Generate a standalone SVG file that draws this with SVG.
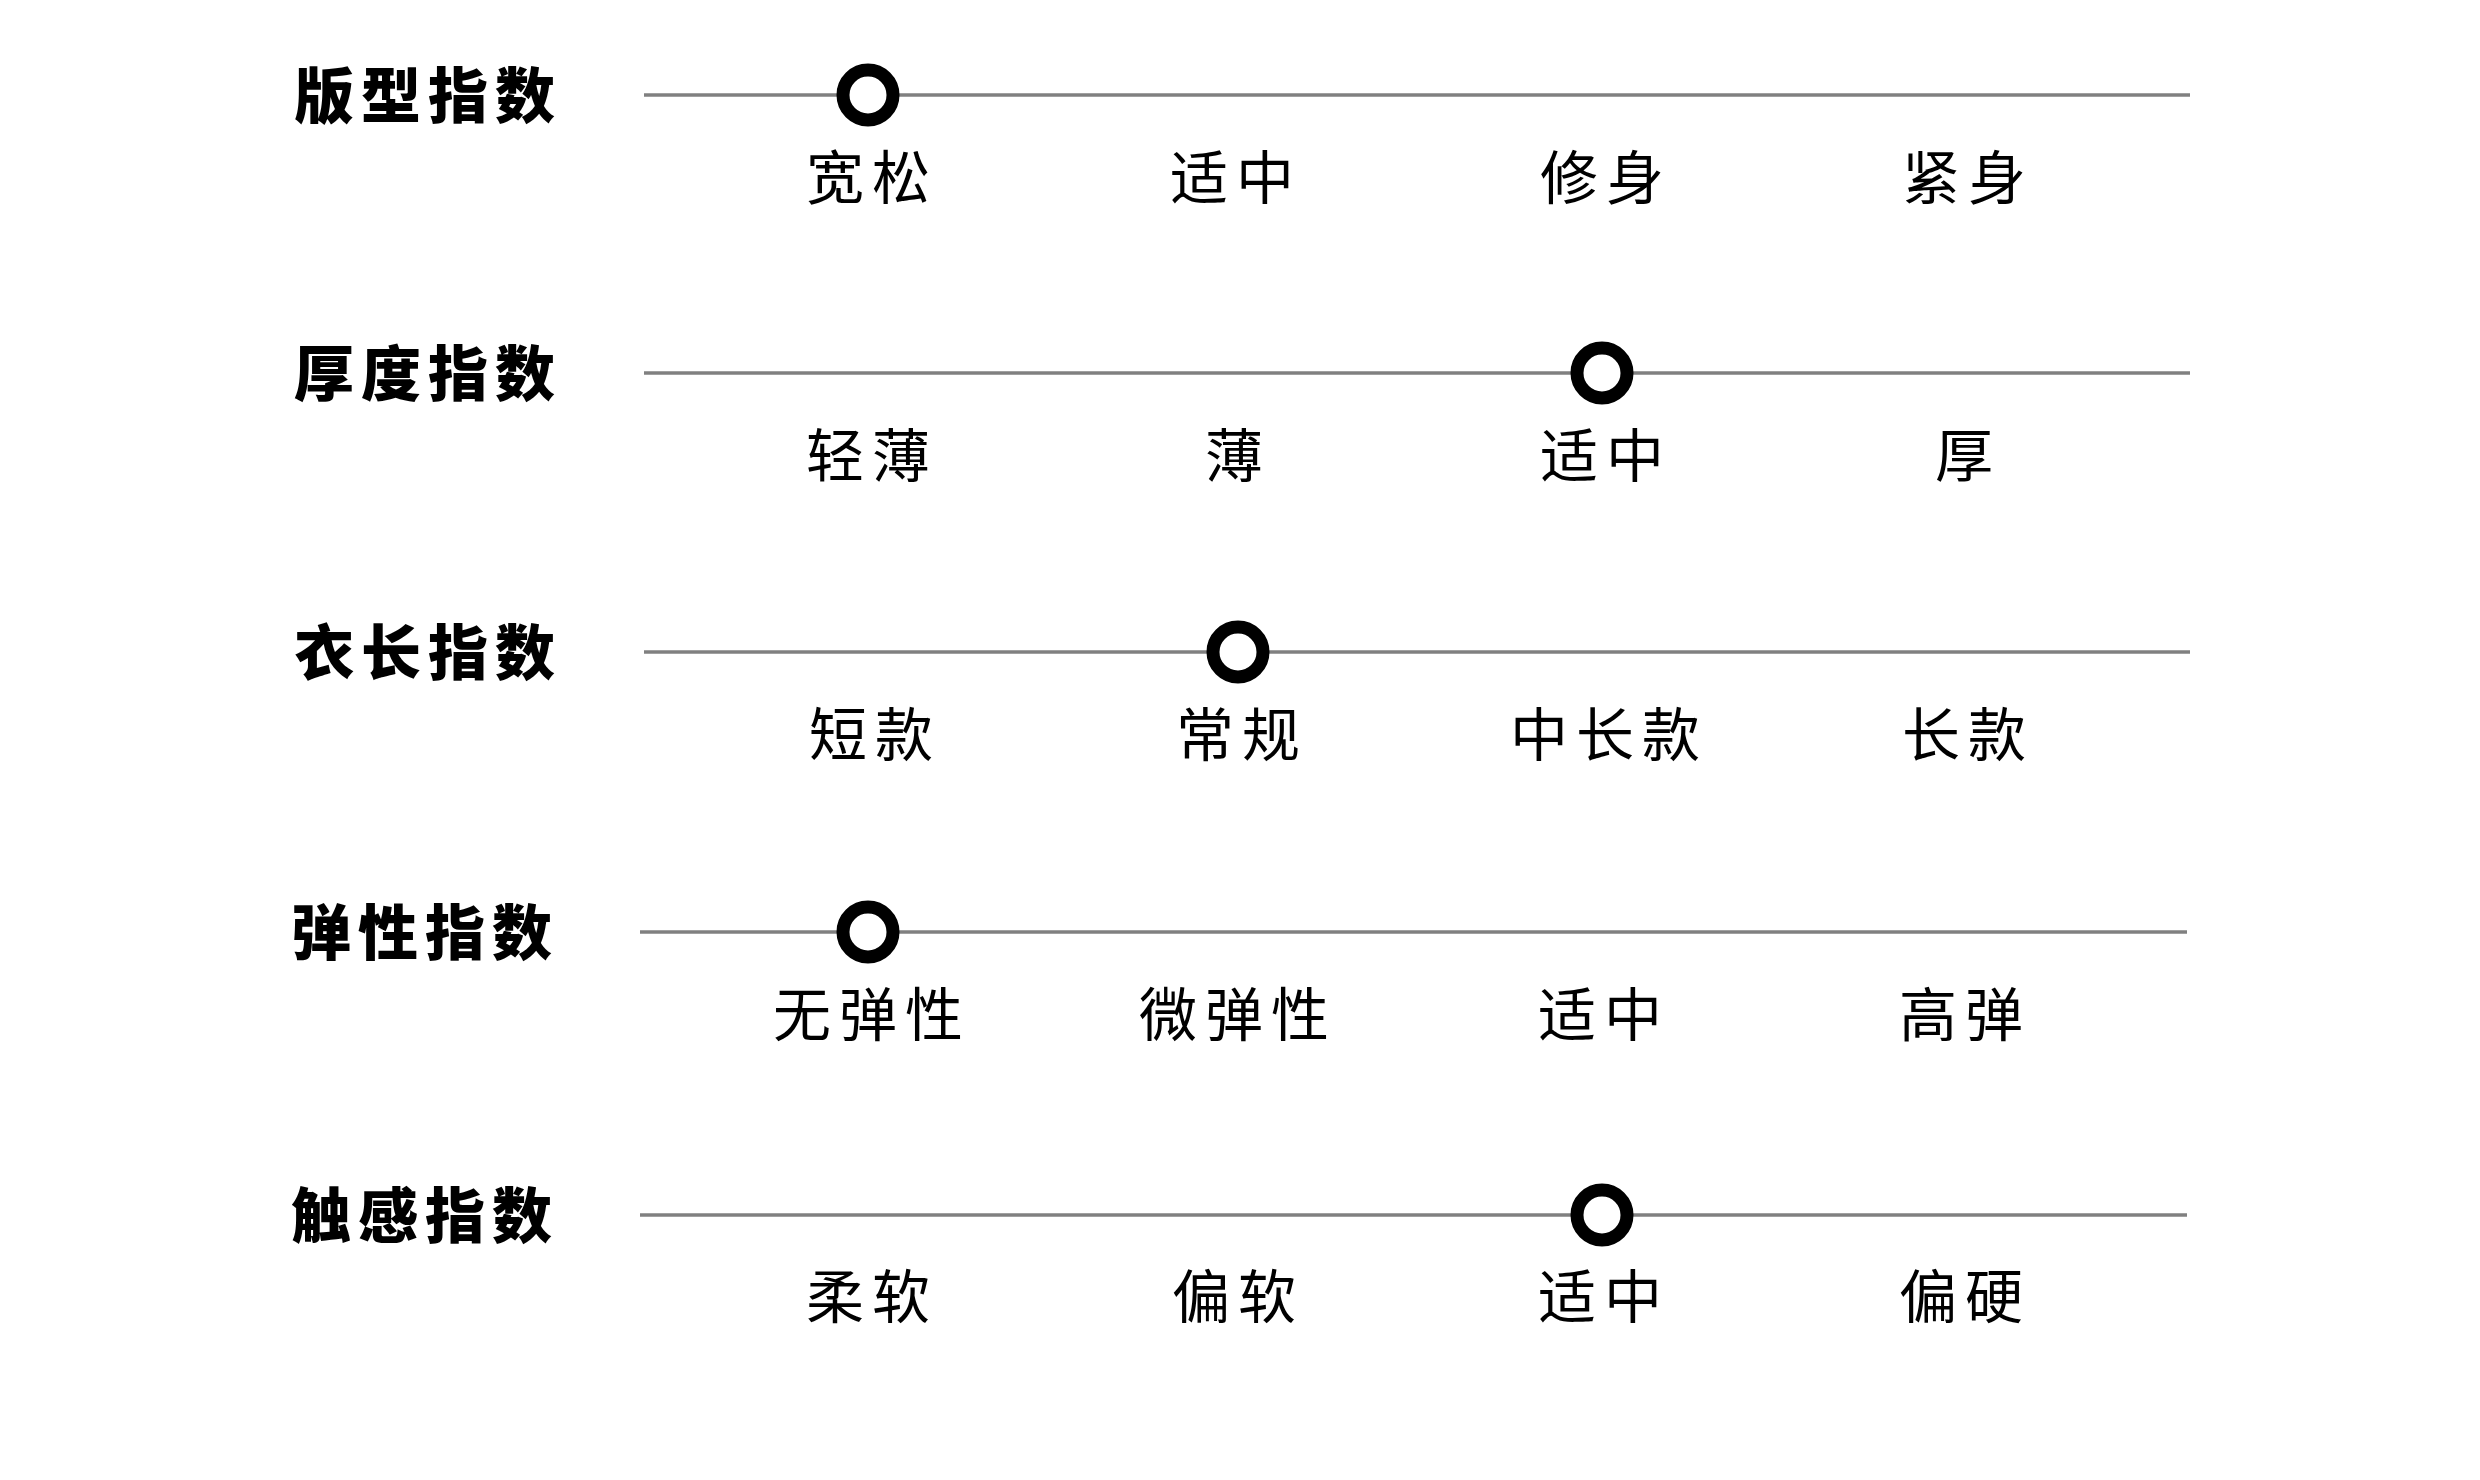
<svg xmlns="http://www.w3.org/2000/svg" width="2480" height="1480" viewBox="0 0 2480 1480">
<style>
.title{font-family:"Noto Sans CJK SC","Noto Sans",sans-serif;font-weight:900;font-size:60px;letter-spacing:7px;fill:#000}
.lbl{font-family:"Noto Sans CJK SC","Noto Sans",sans-serif;font-weight:400;font-size:58px;letter-spacing:8px;fill:#000;text-anchor:middle}
.track{stroke:#808080;stroke-width:3.5}
.knob{fill:#fff;stroke:#000;stroke-width:13}
</style>
<rect width="2480" height="1480" fill="#fff"/>
<g id="connectors">
<line class="track" x1="644" y1="95" x2="2190" y2="95"/>
<line class="track" x1="644" y1="373" x2="2190" y2="373"/>
<line class="track" x1="644" y1="652" x2="2190" y2="652"/>
<line class="track" x1="640" y1="932" x2="2187" y2="932"/>
<line class="track" x1="640" y1="1215" x2="2187" y2="1215"/>
</g>
<g id="row1">
<text class="title" x="294" y="118">版型指数</text>
<circle class="knob" cx="868" cy="95" r="25"/>
<text class="lbl" x="872" y="199">宽松</text>
<text class="lbl" x="1236" y="199">适中</text>
<text class="lbl" x="1606" y="199">修身</text>
<text class="lbl" x="1968" y="199">紧身</text>
</g>
<g id="row2">
<text class="title" x="294" y="396">厚度指数</text>
<circle class="knob" cx="1602" cy="373" r="25"/>
<text class="lbl" x="872" y="477">轻薄</text>
<text class="lbl" x="1238" y="477">薄</text>
<text class="lbl" x="1606" y="477">适中</text>
<text class="lbl" x="1968" y="477">厚</text>
</g>
<g id="row3">
<text class="title" x="294" y="675">衣长指数</text>
<circle class="knob" cx="1238" cy="652" r="25"/>
<text class="lbl" x="875" y="756">短款</text>
<text class="lbl" x="1242" y="756">常规</text>
<text class="lbl" x="1609" y="756">中长款</text>
<text class="lbl" x="1968" y="756">长款</text>
</g>
<g id="row4">
<text class="title" x="291" y="955">弹性指数</text>
<circle class="knob" cx="868" cy="932" r="25"/>
<text class="lbl" x="872" y="1036">无弹性</text>
<text class="lbl" x="1238" y="1036">微弹性</text>
<text class="lbl" x="1604" y="1036">适中</text>
<text class="lbl" x="1965" y="1036">高弹</text>
</g>
<g id="row5">
<text class="title" x="291" y="1238">触感指数</text>
<circle class="knob" cx="1602" cy="1215" r="25"/>
<text class="lbl" x="872" y="1318">柔软</text>
<text class="lbl" x="1238" y="1318">偏软</text>
<text class="lbl" x="1604" y="1318">适中</text>
<text class="lbl" x="1965" y="1318">偏硬</text>
</g>
</svg>
